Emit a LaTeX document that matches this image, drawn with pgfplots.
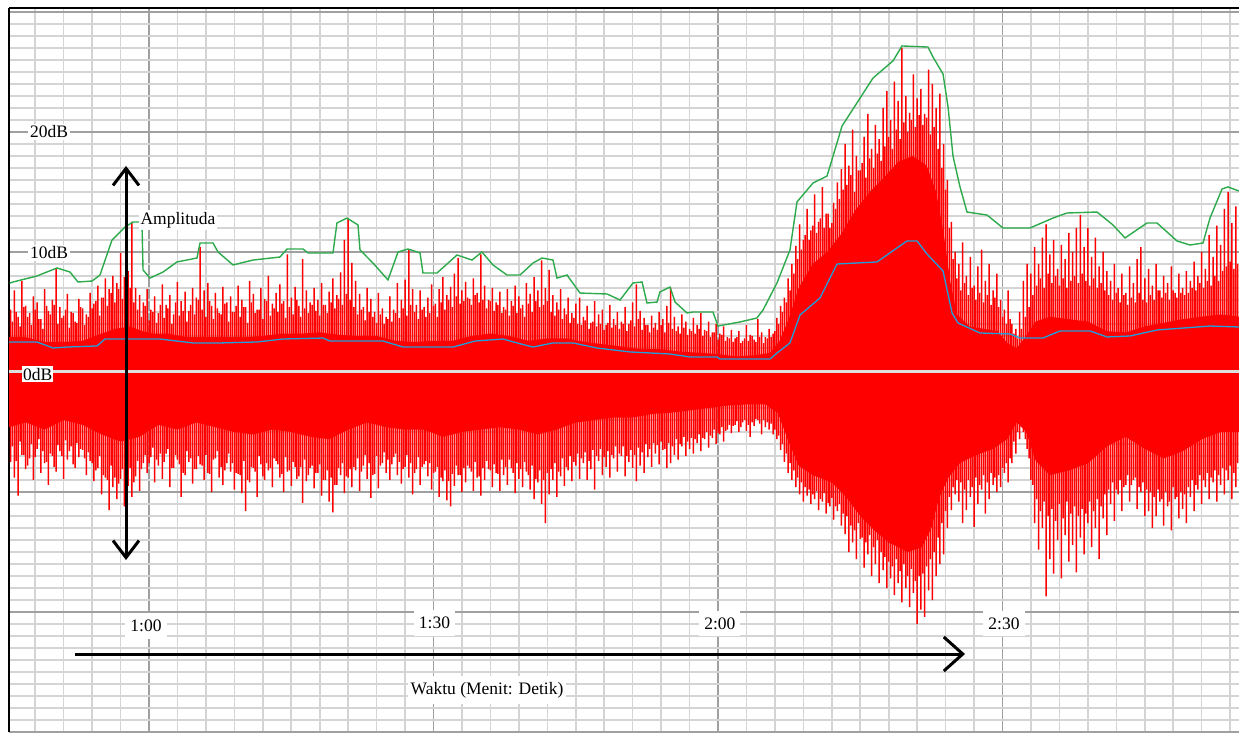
\documentclass[border=0pt]{standalone}
\usepackage{pgfplots}
\pgfplotsset{compat=1.18}
\usepackage{pgfplotstable}
\usepgfplotslibrary{fillbetween}
\usetikzlibrary{arrows.meta}
\usepackage{fontspec}
\setmainfont{Liberation Serif}
\definecolor{wgreen}{RGB}{45,170,75}
\definecolor{wblue}{RGB}{30,160,220}
\definecolor{minorg}{RGB}{212,212,212}
\definecolor{majorg}{RGB}{160,160,160}
\definecolor{zline}{RGB}{222,222,222}

\pgfplotstableread[row sep=\\]{
t u d\\
45.4 5.2 -7.5\\ 45.8 6.8 -8.8\\ 46.2 4.6 -10.3\\ 46.6 7.6 -6.9\\ 47.0 5.5 -8.1\\ 47.4 4.9 -7.2\\ 47.8 6.3 -9.0\\ 48.2 5.8 -6.4\\ 48.6 4.4 -8.4\\ 49.0 6.9 -7.6\\
49.4 5.1 -9.4\\ 49.8 6.0 -7.0\\ 50.2 8.6 -8.3\\ 50.6 5.4 -6.6\\ 51.0 4.7 -8.9\\ 51.4 6.5 -7.3\\ 51.8 5.0 -6.2\\ 52.2 4.2 -8.0\\ 52.6 6.1 -7.1\\ 53.0 5.3 -6.5\\
53.4 4.8 -8.6\\ 53.8 6.6 -7.4\\ 54.2 5.7 -9.1\\ 54.6 7.2 -8.0\\ 55.0 6.2 -10.2\\ 55.4 7.8 -8.8\\ 55.8 6.9 -11.5\\ 56.2 8.0 -9.6\\ 56.6 7.4 -10.6\\ 57.0 9.9 -8.9\\
57.4 7.9 -11.2\\ 57.8 8.4 -9.5\\ 58.2 12.5 -10.4\\ 58.6 7.0 -8.7\\ 59.0 6.4 -9.9\\ 59.4 5.8 -7.6\\ 59.8 6.9 -8.4\\ 60.2 5.2 -7.1\\ 60.6 6.3 -9.2\\ 61.0 4.9 -7.8\\
61.4 7.3 -8.9\\ 61.8 5.6 -6.8\\ 62.2 6.4 -9.6\\ 62.6 4.8 -8.0\\ 63.0 7.5 -7.3\\ 63.4 5.9 -10.4\\ 63.8 6.7 -8.6\\ 64.2 5.1 -7.5\\ 64.6 7.0 -9.3\\ 65.0 6.2 -8.1\\
65.4 10.4 -7.7\\ 65.8 6.8 -9.0\\ 66.2 7.4 -8.4\\ 66.6 5.5 -10.0\\ 67.0 6.6 -7.2\\ 67.4 4.9 -8.8\\ 67.8 7.1 -9.4\\ 68.2 5.8 -7.6\\ 68.6 6.3 -8.3\\ 69.0 5.0 -9.8\\
69.4 7.2 -8.5\\ 69.8 6.0 -10.1\\ 70.2 5.4 -11.6\\ 70.6 7.6 -9.2\\ 71.0 6.5 -8.0\\ 71.4 5.2 -10.4\\ 71.8 7.0 -7.7\\ 72.2 6.1 -9.0\\ 72.6 8.0 -8.2\\ 73.0 5.7 -9.6\\
73.4 6.6 -7.4\\ 73.8 7.3 -8.8\\ 74.2 5.9 -10.0\\ 74.6 9.8 -8.3\\ 75.0 6.2 -9.5\\ 75.4 7.1 -7.9\\ 75.8 5.5 -8.7\\ 76.2 9.4 -10.9\\ 76.6 6.8 -9.1\\ 77.0 5.8 -8.0\\
77.4 7.0 -9.7\\ 77.8 6.0 -8.4\\ 78.2 7.4 -10.3\\ 78.6 5.6 -9.0\\ 79.0 6.7 -10.8\\ 79.4 7.8 -11.7\\ 79.8 6.4 -9.4\\ 80.2 8.3 -8.6\\ 80.6 11.0 -10.1\\ 81.0 12.8 -8.8\\
81.4 9.1 -9.6\\ 81.8 7.6 -8.2\\ 82.2 6.5 -9.9\\ 82.6 5.4 -7.8\\ 83.0 7.0 -8.9\\ 83.4 6.1 -10.5\\ 83.8 5.0 -8.5\\ 84.2 6.6 -9.7\\ 84.6 5.3 -7.6\\ 85.0 4.6 -8.4\\
85.4 6.3 -9.0\\ 85.8 5.2 -7.1\\ 86.2 7.4 -8.6\\ 86.6 6.0 -9.3\\ 87.0 7.7 -7.9\\ 87.4 10.2 -8.8\\ 87.8 6.9 -10.2\\ 88.2 5.6 -8.1\\ 88.6 6.8 -9.4\\ 89.0 5.4 -7.7\\
89.4 6.2 -8.7\\ 89.8 7.3 -9.8\\ 90.2 5.7 -8.3\\ 90.6 6.9 -10.4\\ 91.0 7.9 -9.1\\ 91.4 6.4 -10.7\\ 91.8 7.1 -11.2\\ 92.2 8.2 -9.5\\ 92.6 9.5 -8.6\\ 93.0 6.8 -10.0\\
93.4 7.5 -9.2\\ 93.8 6.1 -8.0\\ 94.2 7.8 -9.9\\ 94.6 6.6 -8.8\\ 95.0 9.8 -10.3\\ 95.4 7.2 -9.0\\ 95.8 6.0 -8.1\\ 96.2 7.0 -9.6\\ 96.6 5.8 -8.4\\ 97.0 6.7 -9.9\\
97.4 5.4 -8.6\\ 97.8 6.9 -9.4\\ 98.2 5.9 -8.0\\ 98.6 7.2 -10.1\\ 99.0 6.3 -8.9\\ 99.4 5.6 -9.6\\ 99.8 7.4 -8.3\\ 100.2 6.5 -9.8\\ 100.6 7.9 -10.6\\ 101.0 6.8 -9.2\\
101.4 9.3 -11.0\\ 101.8 7.0 -12.6\\ 102.2 8.5 -10.2\\ 102.6 6.4 -9.0\\ 103.0 5.8 -10.4\\ 103.4 6.9 -8.7\\ 103.8 5.3 -9.5\\ 104.2 6.2 -8.2\\ 104.6 4.9 -9.1\\ 105.0 5.7 -7.8\\
105.4 6.2 -8.9\\ 105.8 4.6 -7.6\\ 106.2 5.5 -9.0\\ 106.6 4.1 -8.1\\ 107.0 5.9 -9.8\\ 107.4 4.8 -7.4\\ 107.8 5.2 -8.6\\ 108.2 3.9 -7.9\\ 108.6 5.6 -8.8\\ 109.0 4.4 -7.2\\
109.4 5.0 -8.3\\ 109.8 4.2 -7.0\\ 110.2 5.4 -8.7\\ 110.6 4.0 -7.5\\ 111.0 5.8 -8.0\\ 111.4 7.3 -9.1\\ 111.8 5.1 -7.8\\ 112.2 4.5 -8.4\\ 112.6 3.9 -7.1\\ 113.0 4.7 -7.9\\
113.4 4.1 -6.8\\ 113.8 5.0 -7.7\\ 114.2 4.4 -6.5\\ 114.6 5.5 -8.0\\ 115.0 7.0 -7.6\\ 115.4 4.6 -6.9\\ 115.8 3.8 -7.3\\ 116.2 4.8 -6.2\\ 116.6 4.2 -7.0\\ 117.0 3.6 -6.4\\
117.4 4.5 -6.8\\ 117.8 3.9 -5.9\\ 118.2 4.9 -6.6\\ 118.6 3.5 -5.6\\ 119.0 4.2 -6.3\\ 119.4 3.3 -5.5\\ 119.8 4.0 -6.0\\ 120.2 3.2 -5.2\\ 120.6 3.8 -5.8\\ 121.0 2.9 -4.8\\
121.4 3.5 -5.1\\ 121.8 2.8 -4.4\\ 122.2 3.4 -5.0\\ 122.6 2.6 -4.2\\ 123.0 3.9 -4.9\\ 123.4 3.1 -5.4\\ 123.8 2.7 -4.5\\ 124.2 4.4 -4.0\\ 124.6 3.3 -5.2\\ 125.0 2.9 -4.6\\
125.4 3.6 -4.8\\ 125.8 3.2 -5.2\\ 126.2 4.5 -5.6\\ 126.6 5.5 -6.5\\ 127.0 6.2 -7.5\\ 127.4 7.8 -8.4\\ 127.8 9.0 -9.0\\ 128.2 10.5 -9.6\\ 128.6 12.3 -10.2\\ 129.0 11.0 -10.8\\
129.4 13.6 -10.3\\ 129.8 11.8 -11.0\\ 130.2 14.8 -10.6\\ 130.6 12.5 -11.5\\ 131.0 15.4 -10.8\\ 131.4 13.2 -11.8\\ 131.8 12.0 -11.2\\ 132.2 14.1 -12.3\\ 132.6 15.8 -11.6\\ 133.0 16.9 -12.8\\
133.4 19.0 -13.5\\ 133.8 17.2 -15.0\\ 134.2 20.2 -14.2\\ 134.6 18.0 -15.6\\ 135.0 16.8 -13.9\\ 135.4 19.6 -16.3\\ 135.8 21.5 -15.2\\ 136.2 18.6 -17.0\\ 136.6 20.6 -16.0\\ 137.0 19.4 -17.6\\
137.4 22.0 -16.5\\ 137.8 23.4 -18.0\\ 138.2 21.0 -17.2\\ 138.6 24.2 -18.6\\ 139.0 22.6 -17.6\\ 139.4 27.0 -19.2\\ 139.8 23.0 -18.0\\ 140.2 21.6 -19.6\\ 140.6 24.8 -18.4\\ 141.0 22.8 -21.0\\
141.4 23.6 -19.8\\ 141.8 21.5 -20.4\\ 142.2 25.2 -18.2\\ 142.6 24.0 -19.0\\ 143.0 22.0 -17.0\\ 143.4 23.2 -16.0\\ 143.8 19.0 -15.2\\ 144.2 16.0 -13.0\\ 144.6 12.5 -11.5\\ 145.0 10.0 -10.2\\
145.4 9.0 -10.8\\ 145.8 10.8 -12.6\\ 146.2 8.0 -11.5\\ 146.6 9.6 -10.4\\ 147.0 7.2 -12.9\\ 147.4 8.8 -11.0\\ 147.8 10.2 -9.8\\ 148.2 7.6 -11.8\\ 148.6 9.0 -10.6\\ 149.0 6.8 -9.4\\
149.4 8.2 -10.0\\ 149.8 6.0 -9.6\\ 150.2 5.2 -8.4\\ 150.6 6.8 -9.2\\ 151.0 4.0 -7.6\\ 151.4 3.6 -6.8\\ 151.8 5.0 -5.6\\ 152.2 7.6 -5.0\\ 152.6 9.0 -6.4\\ 153.0 8.2 -9.0\\
153.4 10.4 -12.6\\ 153.8 9.0 -14.8\\ 154.2 11.2 -13.0\\ 154.6 12.3 -18.7\\ 155.0 9.8 -15.6\\ 155.4 11.0 -16.8\\ 155.8 8.6 -14.0\\ 156.2 10.6 -17.2\\ 156.6 9.4 -13.6\\ 157.0 11.6 -15.8\\
157.4 10.0 -14.4\\ 157.8 12.0 -16.7\\ 158.2 13.1 -13.8\\ 158.6 10.4 -15.2\\ 159.0 12.0 -12.6\\ 159.4 9.6 -14.6\\ 159.8 11.2 -13.0\\ 160.2 8.8 -15.6\\ 160.6 10.0 -12.2\\ 161.0 8.4 -13.6\\
161.4 7.6 -11.0\\ 161.8 9.0 -12.4\\ 162.2 7.0 -10.2\\ 162.6 8.2 -11.6\\ 163.0 6.6 -9.4\\ 163.4 8.8 -10.8\\ 163.8 7.4 -9.0\\ 164.2 9.4 -11.4\\ 164.6 10.4 -10.0\\ 165.0 7.8 -12.0\\
165.4 8.6 -11.6\\ 165.8 7.2 -13.0\\ 166.2 9.0 -12.0\\ 166.6 6.8 -10.8\\ 167.0 8.0 -12.8\\ 167.4 7.4 -11.2\\ 167.8 8.8 -13.2\\ 168.2 6.6 -10.6\\ 168.6 8.2 -12.2\\ 169.0 7.0 -11.4\\
169.4 8.4 -12.6\\ 169.8 7.6 -10.4\\ 170.2 9.2 -11.6\\ 170.6 8.0 -9.8\\ 171.0 10.0 -11.0\\ 171.4 8.6 -9.6\\ 171.8 11.4 -10.6\\ 172.2 9.6 -9.2\\ 172.6 12.2 -10.8\\ 173.0 10.6 -9.4\\
173.4 13.6 -10.2\\ 173.8 15.0 -9.0\\ 174.2 12.4 -10.6\\ 174.6 13.8 -9.6\\
}\spikes

\pgfplotstableread[row sep=\\]{
t u d\\
45.6 4.2 -6.2\\ 46.0 5.0 -7.4\\ 46.4 3.8 -5.8\\ 46.8 5.4 -6.9\\ 47.2 4.6 -7.8\\ 47.6 3.9 -6.0\\ 48.0 5.2 -7.1\\ 48.4 4.4 -5.6\\ 48.8 3.6 -6.6\\ 49.2 5.5 -7.5\\
49.6 4.8 -6.8\\ 50.0 5.6 -7.9\\ 50.4 4.0 -6.1\\ 50.8 4.5 -7.0\\ 51.2 5.2 -5.7\\ 51.6 3.7 -6.6\\ 52.0 4.9 -7.7\\ 52.4 4.1 -5.9\\ 52.8 5.4 -6.4\\ 53.2 3.9 -7.2\\
53.6 4.6 -6.7\\ 54.0 5.3 -7.6\\ 54.4 5.9 -8.2\\ 54.8 4.7 -7.0\\ 55.2 6.2 -8.6\\ 55.6 5.5 -9.0\\ 56.0 6.6 -7.8\\ 56.4 5.8 -8.8\\ 56.8 6.9 -9.3\\ 57.2 6.1 -8.1\\
57.6 6.4 -8.9\\ 58.0 7.0 -8.0\\ 58.4 5.8 -9.2\\ 58.8 5.2 -7.4\\ 59.2 4.6 -8.1\\ 59.6 5.5 -6.9\\ 60.0 4.3 -7.6\\ 60.4 5.0 -6.3\\ 60.8 4.1 -7.3\\ 61.2 5.6 -6.8\\
61.6 4.5 -7.5\\ 62.0 5.3 -6.4\\ 62.4 4.0 -8.0\\ 62.8 5.8 -6.9\\ 63.2 4.7 -7.7\\ 63.6 5.1 -8.4\\ 64.0 4.2 -6.6\\ 64.4 5.6 -7.2\\ 64.8 4.8 -8.1\\ 65.2 6.0 -7.0\\
65.6 5.2 -7.8\\ 66.0 4.6 -6.9\\ 66.4 5.9 -8.5\\ 66.8 4.4 -7.3\\ 67.2 5.3 -6.6\\ 67.6 4.8 -7.9\\ 68.0 5.7 -8.2\\ 68.4 4.2 -6.8\\ 68.8 5.0 -7.6\\ 69.2 5.5 -8.4\\
69.6 4.6 -8.6\\ 70.0 5.4 -7.4\\ 70.4 4.1 -9.0\\ 70.8 5.8 -7.9\\ 71.2 4.9 -8.3\\ 71.6 5.2 -7.0\\ 72.0 4.4 -8.7\\ 72.4 5.9 -7.6\\ 72.8 4.7 -8.0\\ 73.2 5.3 -7.2\\
73.6 5.0 -7.7\\ 74.0 5.7 -8.5\\ 74.4 4.5 -7.1\\ 74.8 5.4 -8.2\\ 75.2 4.8 -7.5\\ 75.6 6.0 -8.9\\ 76.0 4.6 -7.9\\ 76.4 5.3 -7.3\\ 76.8 4.9 -8.6\\ 77.2 5.6 -7.8\\
77.6 5.1 -8.4\\ 78.0 4.7 -7.7\\ 78.4 5.6 -9.0\\ 78.8 4.9 -8.2\\ 79.2 5.8 -8.8\\ 79.6 5.3 -9.4\\ 80.0 6.1 -8.0\\ 80.4 5.6 -7.6\\ 80.8 6.5 -8.7\\ 81.2 6.0 -8.1\\
81.6 5.4 -7.9\\ 82.0 4.8 -7.2\\ 82.4 5.2 -8.3\\ 82.8 4.3 -6.9\\ 83.2 5.0 -7.6\\ 83.6 4.6 -8.6\\ 84.0 4.1 -7.0\\ 84.4 4.8 -7.8\\ 84.8 4.0 -6.7\\ 85.2 4.4 -7.3\\
85.6 4.2 -7.7\\ 86.0 4.9 -6.8\\ 86.4 4.5 -7.5\\ 86.8 5.3 -8.1\\ 87.2 4.7 -6.9\\ 87.6 5.6 -7.6\\ 88.0 5.0 -8.4\\ 88.4 4.4 -7.1\\ 88.8 5.2 -7.9\\ 89.2 4.6 -7.4\\
89.6 4.9 -7.6\\ 90.0 5.5 -8.4\\ 90.4 4.6 -7.9\\ 90.8 5.8 -8.8\\ 91.2 5.2 -8.2\\ 91.6 6.0 -9.1\\ 92.0 5.4 -8.5\\ 92.4 6.3 -7.8\\ 92.8 5.7 -8.6\\ 93.2 5.9 -8.0\\
93.6 6.2 -7.8\\ 94.0 5.6 -8.3\\ 94.4 6.4 -7.5\\ 94.8 5.8 -8.7\\ 95.2 6.0 -8.0\\ 95.6 5.3 -7.4\\ 96.0 5.9 -8.2\\ 96.4 5.1 -7.7\\ 96.8 5.6 -8.5\\ 97.2 4.9 -7.3\\
97.6 5.2 -7.9\\ 98.0 4.7 -7.3\\ 98.4 5.5 -8.4\\ 98.8 4.9 -7.6\\ 99.2 5.3 -8.1\\ 99.6 4.6 -7.5\\ 100.0 5.7 -8.6\\ 100.4 5.0 -7.8\\ 100.8 5.9 -8.9\\ 101.2 5.4 -8.2\\
101.6 5.6 -9.0\\ 102.0 5.9 -8.4\\ 102.4 5.0 -8.1\\ 102.8 4.7 -7.6\\ 103.2 5.2 -8.3\\ 103.6 4.4 -7.2\\ 104.0 4.8 -7.9\\ 104.4 4.1 -7.0\\ 104.8 4.5 -7.5\\ 105.2 4.0 -6.8\\
105.6 3.9 -7.2\\ 106.0 4.3 -6.7\\ 106.4 3.6 -7.4\\ 106.8 4.2 -6.5\\ 107.2 3.8 -7.0\\ 107.6 4.0 -6.4\\ 108.0 3.5 -7.1\\ 108.4 4.1 -6.6\\ 108.8 3.7 -6.9\\ 109.2 3.9 -6.2\\
109.6 3.6 -6.8\\ 110.0 4.0 -6.2\\ 110.4 3.4 -7.0\\ 110.8 4.3 -6.5\\ 111.2 3.8 -6.9\\ 111.6 4.4 -6.3\\ 112.0 3.5 -6.7\\ 112.4 3.9 -6.0\\ 112.8 3.3 -6.4\\ 113.2 3.7 -5.9\\
113.6 3.5 -6.1\\ 114.0 3.9 -5.8\\ 114.4 3.3 -6.4\\ 114.8 4.1 -5.9\\ 115.2 3.6 -6.2\\ 115.6 3.4 -5.6\\ 116.0 3.2 -6.0\\ 116.4 3.7 -5.4\\ 116.8 3.1 -5.8\\ 117.2 3.4 -5.5\\
117.6 3.2 -5.6\\ 118.0 3.6 -5.2\\ 118.4 3.0 -5.5\\ 118.8 3.4 -5.0\\ 119.2 2.9 -5.3\\ 119.6 3.3 -4.8\\ 120.0 2.7 -5.1\\ 120.4 3.1 -4.6\\ 120.8 2.6 -4.9\\ 121.2 2.8 -4.4\\
121.6 2.5 -4.5\\ 122.0 2.9 -4.1\\ 122.4 2.4 -4.6\\ 122.8 2.8 -4.0\\ 123.2 2.6 -4.4\\ 123.6 3.0 -4.2\\ 124.0 2.5 -3.9\\ 124.4 2.9 -4.3\\ 124.8 2.4 -4.0\\ 125.2 2.8 -4.2\\
125.6 2.9 -4.3\\ 126.0 3.4 -4.8\\ 126.4 4.0 -5.3\\ 126.8 5.0 -6.0\\ 127.2 5.8 -6.8\\ 127.6 6.8 -7.6\\ 128.0 8.2 -8.2\\ 128.4 9.4 -8.8\\ 128.8 10.2 -9.2\\ 129.2 11.4 -9.6\\
129.6 11.0 -9.8\\ 130.0 12.2 -10.2\\ 130.4 11.6 -9.9\\ 130.8 12.8 -10.6\\ 131.2 12.0 -10.1\\ 131.6 13.2 -10.9\\ 132.0 12.4 -10.5\\ 132.4 13.6 -11.2\\ 132.8 14.4 -11.0\\ 133.2 15.2 -11.8\\
133.6 15.6 -12.0\\ 134.0 16.4 -12.8\\ 134.4 15.0 -13.2\\ 134.8 16.8 -12.6\\ 135.2 17.4 -13.8\\ 135.6 16.2 -14.2\\ 136.0 17.8 -13.6\\ 136.4 17.0 -14.6\\ 136.8 18.2 -14.0\\ 137.2 17.6 -15.0\\
137.6 18.8 -15.4\\ 138.0 19.6 -15.8\\ 138.4 18.6 -16.2\\ 138.8 20.2 -15.6\\ 139.2 19.4 -16.6\\ 139.6 20.8 -16.0\\ 140.0 20.0 -17.0\\ 140.4 21.0 -16.4\\ 140.8 20.4 -17.4\\ 141.2 21.4 -17.0\\
141.6 20.6 -16.8\\ 142.0 21.2 -16.2\\ 142.4 19.8 -15.6\\ 142.8 20.4 -15.0\\ 143.2 18.6 -13.8\\ 143.6 17.0 -12.6\\ 144.0 15.2 -11.6\\ 144.4 12.0 -10.4\\ 144.8 9.4 -9.6\\ 145.2 7.8 -9.0\\
145.6 6.8 -9.2\\ 146.0 7.4 -9.8\\ 146.4 6.4 -9.0\\ 146.8 7.0 -9.6\\ 147.2 6.0 -8.8\\ 147.6 6.6 -9.4\\ 148.0 5.8 -8.6\\ 148.4 6.4 -9.2\\ 148.8 5.6 -8.4\\ 149.2 6.2 -8.8\\
149.6 5.4 -8.6\\ 150.0 4.6 -8.0\\ 150.4 4.0 -7.6\\ 150.8 4.4 -7.2\\ 151.2 3.2 -5.8\\ 151.6 2.8 -5.0\\ 152.0 3.6 -4.6\\ 152.4 4.6 -5.6\\ 152.8 5.4 -7.2\\ 153.2 6.4 -9.4\\
153.6 7.2 -10.6\\ 154.0 7.8 -11.6\\ 154.4 7.0 -10.8\\ 154.8 8.2 -12.0\\ 155.2 7.4 -11.4\\ 155.6 8.0 -12.4\\ 156.0 7.2 -11.0\\ 156.4 7.8 -12.2\\ 156.8 7.0 -10.8\\ 157.2 7.6 -11.8\\
157.6 8.0 -11.2\\ 158.0 7.4 -12.0\\ 158.4 8.2 -11.4\\ 158.8 7.6 -11.8\\ 159.2 7.2 -10.8\\ 159.6 7.8 -11.6\\ 160.0 7.0 -10.6\\ 160.4 7.4 -11.2\\ 160.8 6.8 -10.2\\ 161.2 6.4 -9.8\\
161.6 6.0 -9.2\\ 162.0 6.6 -9.8\\ 162.4 5.8 -9.0\\ 162.8 6.4 -9.6\\ 163.2 5.6 -8.6\\ 163.6 6.2 -9.4\\ 164.0 5.8 -8.8\\ 164.4 6.6 -9.6\\ 164.8 6.0 -9.2\\ 165.2 5.8 -9.8\\
165.6 6.4 -10.0\\ 166.0 6.0 -10.4\\ 166.4 6.8 -9.8\\ 166.8 6.2 -10.6\\ 167.2 6.6 -10.0\\ 167.6 6.0 -10.8\\ 168.0 6.8 -9.6\\ 168.4 6.2 -10.4\\ 168.8 6.6 -10.0\\ 169.2 6.4 -10.2\\
169.6 6.6 -9.6\\ 170.0 7.0 -9.0\\ 170.4 6.8 -9.4\\ 170.8 7.4 -8.6\\ 171.2 7.0 -9.0\\ 171.6 7.6 -8.4\\ 172.0 7.2 -8.8\\ 172.4 8.0 -8.2\\ 172.8 7.6 -8.6\\ 173.2 8.4 -8.0\\
173.6 8.8 -8.2\\ 174.0 9.2 -7.8\\ 174.4 8.6 -8.4\\ 174.8 9.0 -7.6\\
}\mids

\pgfplotstableread[row sep=\\]{
t y\\
45.2 2.9\\ 47 2.9\\ 49 2.5\\ 51 2.5\\ 53 2.6\\ 55 3.2\\ 56.5 3.6\\ 58 3.8\\ 59.3 3.4\\ 60.5 3.2\\
62 3.2\\ 64 2.9\\ 66 2.9\\ 68 2.9\\ 70 2.9\\ 72 3.0\\ 74 3.2\\ 76 3.2\\ 78 3.3\\ 80 3.1\\
82 3.0\\ 84 3.0\\ 86 2.6\\ 88 2.5\\ 90 2.6\\ 92 2.6\\ 94 3.0\\ 96 3.2\\ 98 3.0\\ 100 2.6\\
102 2.8\\ 104 2.8\\ 106 2.5\\ 108 2.3\\ 110 2.1\\ 112 1.9\\ 114 1.9\\ 116 1.7\\ 118 1.6\\ 120 1.5\\
122 1.3\\ 124 1.4\\ 125.5 1.6\\ 126.5 2.6\\ 127.5 4.5\\ 128.5 7.0\\ 130 9.0\\ 131.5 10.0\\ 133 11.5\\ 134.5 13.5\\
136 15.0\\ 137.5 16.2\\ 139 17.5\\ 140.5 18.0\\ 142 17.2\\ 143 15.0\\ 143.8 11.5\\ 144.5 7.5\\ 145.2 4.8\\ 146.5 3.8\\
148 3.6\\ 149.5 3.4\\ 150.5 2.4\\ 151.5 2.0\\ 152.3 2.8\\ 153.5 4.2\\ 155 4.6\\ 157 4.4\\ 159 4.2\\ 161 3.4\\
163 3.3\\ 165 3.8\\ 167 4.1\\ 169 4.4\\ 171 4.6\\ 173 4.8\\ 175 4.6\\
}\coretop

\pgfplotstableread[row sep=\\]{
t y\\
45.2 -4.6\\ 47 -4.2\\ 49 -4.8\\ 51 -4.0\\ 53 -4.4\\ 55 -5.2\\ 57 -5.8\\ 59 -5.4\\ 61 -4.4\\ 63 -4.8\\
65 -4.2\\ 67 -4.6\\ 69 -5.0\\ 71 -5.2\\ 73 -4.8\\ 75 -5.0\\ 77 -5.4\\ 79 -5.6\\ 81 -4.8\\ 83 -4.2\\
85 -4.6\\ 87 -4.8\\ 89 -4.8\\ 91 -5.4\\ 93 -5.0\\ 95 -4.8\\ 97 -4.6\\ 99 -4.8\\ 101 -5.2\\ 103 -4.8\\
105 -4.2\\ 107 -4.0\\ 109 -3.8\\ 111 -3.8\\ 113 -3.5\\ 115 -3.4\\ 117 -3.2\\ 119 -3.0\\ 121 -2.8\\ 123 -2.7\\
125 -2.7\\ 126.3 -3.4\\ 127.3 -5.5\\ 128.5 -7.8\\ 130 -8.6\\ 132 -9.2\\ 133.5 -10.4\\ 135 -12.0\\ 136.5 -13.2\\ 138 -14.2\\
140 -15.0\\ 141.5 -14.6\\ 142.5 -13.0\\ 143.3 -10.5\\ 144.3 -8.8\\ 145.5 -7.6\\ 147 -7.0\\ 149 -6.4\\ 150.5 -5.6\\ 151.5 -4.2\\
152.5 -5.0\\ 153.5 -7.4\\ 155 -8.6\\ 157 -8.2\\ 159 -7.6\\ 161 -6.2\\ 163 -5.4\\ 165 -6.4\\ 167 -7.2\\ 169 -6.6\\
171 -5.6\\ 173 -5.0\\ 175 -5.0\\
}\corebot

\begin{document}
\begin{tikzpicture}
\begin{axis}[
  at={(9pt,0pt)}, anchor=south west,
  scale only axis, width=1230pt, height=724pt,
  xmin=45.237, xmax=174.94, ymin=-30, ymax=30.333,
  axis x line*=top, axis y line*=left,
  axis line style={black, line width=1.2pt, -},
  xtick={60,90,120,150}, minor xtick={48,51,...,174},
  ytick={-30,-20,-10,0,10,20,30}, minor ytick={-29,-28,...,30},
  xticklabels={}, yticklabels={},
  major tick length=0pt, minor tick length=0pt,
  grid=both,
  major grid style={draw=majorg, line width=1.4pt},
  minor grid style={draw=minorg, line width=1.6pt},
  clip=true,
]
\addplot[name path=ct, draw=none] table[x=t,y=y] {\coretop};
\addplot[name path=cb, draw=none] table[x=t,y=y] {\corebot};
\addplot[fill=red, draw=none] fill between[of=ct and cb];
\addplot[ybar, bar width=1.5pt, bar shift=0pt, fill=red, draw=none] table[x=t,y=u] {\mids};
\addplot[ybar, bar width=1.5pt, bar shift=0pt, fill=red, draw=none] table[x=t,y=d] {\mids};
\addplot[ybar, bar width=1.5pt, bar shift=0pt, fill=red, draw=none] table[x=t,y=u] {\spikes};
\addplot[ybar, bar width=1.5pt, bar shift=0pt, fill=red, draw=none] table[x=t,y=d] {\spikes};
\addplot[wgreen, line width=1.4pt, mark=none] coordinates {
(45.3,7.4) (45.66,7.5) (48.19,8.0) (50.30,8.67) (51.67,8.33) (52.51,7.5) (53.99,7.58) (54.83,8.08)
(56.10,11.0) (57.47,12.08) (58.31,12.5) (59.26,12.5) (59.37,8.5) (60.11,7.83) (61.48,8.33) (62.95,9.17)
(65.06,9.5) (65.38,10.75) (66.75,10.75) (67.28,10.0) (68.86,8.92) (70.97,9.33) (73.81,9.58) (74.55,10.25)
(76.24,10.25) (76.77,9.92) (79.40,9.92) (79.82,12.42) (80.88,12.83) (82.04,12.25) (82.25,10.17) (83.62,9.08)
(85.20,7.67) (86.26,10.0) (87.31,10.25) (88.58,9.92) (88.89,8.25) (90.37,8.25) (92.48,9.75) (94.06,9.33)
(95.11,10.0) (96.27,8.92) (97.75,8.08) (99.12,8.08) (100.49,9.08) (101.44,9.5) (102.60,9.33) (103.02,7.83)
(104.08,8.08) (105.45,6.58) (108.30,6.5) (109.67,6.0) (111.04,7.42) (111.99,7.5) (112.51,5.75) (113.57,5.83)
(113.88,6.67) (114.94,7.08) (115.47,5.83) (116.73,4.92) (117.37,5.0) (119.47,5.0) (120.00,3.83) (122.32,4.17)
(124.11,4.5) (124.75,5.17) (126.22,7.42) (127.59,10.17) (128.33,14.17) (130.02,15.75) (131.50,16.33) (133.08,20.5)
(136.35,24.5) (138.45,25.92) (139.40,27.17) (142.14,27.08) (142.67,26.25) (143.73,24.83) (144.26,22.08) (144.78,18.0)
(145.52,15.42) (146.26,13.33) (148.37,13.08) (150.05,12.0) (152.90,12.0) (155.33,12.83) (156.80,13.25) (159.97,13.33)
(161.65,12.25) (162.92,11.17) (165.24,12.42) (166.29,12.42) (168.40,10.92) (169.77,10.58) (171.14,10.75) (171.88,12.83)
(173.15,15.25) (173.78,15.42) (174.94,15.08)
};
\addplot[wblue, line width=1.3pt, mark=none] coordinates {
(45.13,2.5) (48.19,2.5) (49.88,2.0) (51.35,2.08) (54.52,2.17) (55.36,2.75) (61.16,2.75) (64.64,2.42)
(67.49,2.42) (71.39,2.5) (74.13,2.75) (78.35,2.83) (79.09,2.58) (84.68,2.58) (86.78,2.08) (92.06,2.08)
(94.38,2.58) (97.33,2.75) (98.81,2.42) (100.49,2.08) (102.60,2.42) (104.71,2.42) (107.24,2.0) (110.72,1.67)
(114.94,1.5) (117.05,1.25) (119.90,1.25) (120.21,1.08) (125.49,1.08) (126.22,1.58) (127.59,2.42) (128.65,4.75)
(130.76,6.17) (132.55,9.0) (136.77,9.17) (139.93,10.92) (140.99,10.92) (142.04,9.83) (143.73,8.42) (144.68,4.92)
(145.31,4.08) (147.63,3.25) (150.79,3.17) (151.85,2.83) (154.27,2.83) (156.07,3.42) (159.23,3.42) (161.02,2.92)
(163.45,3.0) (166.29,3.5) (171.88,3.83) (174.94,3.75)
};
\addplot[zline, line width=3pt, mark=none] coordinates {(45.0,0) (176.0,0)};
\draw[black, line width=3pt, {Straight Barb[length=17pt,width=26pt]}-{Straight Barb[length=17pt,width=26pt]}]
  (axis cs:57.575,-15.67) -- (axis cs:57.575,17.17);
\draw[black, line width=3pt, -{Straight Barb[length=19pt,width=34pt]}]
  (axis cs:52.2,-23.5) -- (axis cs:146.05,-23.5);
\begin{scope}[every node/.style={font=\fontsize{17.5}{21}\selectfont, fill=white, inner xsep=2pt, inner ysep=2pt}]
\node[anchor=west] at (axis cs:47.24,20) {20dB};
\node[anchor=west] at (axis cs:47.24,9.92) {10dB};
\node[anchor=west, inner xsep=1pt] at (axis cs:46.61,-0.17) {0dB\hspace{9pt}};
\node at (axis cs:63.06,12.67) {Amplituda};
\node[inner xsep=5pt, inner ysep=7pt] at (axis cs:59.68,-21.17) {1:00};
\node[inner xsep=5pt, inner ysep=7pt] at (axis cs:90.1,-20.92) {1:30};
\node[inner xsep=5pt, inner ysep=7pt] at (axis cs:120.2,-20.96) {2:00};
\node[inner xsep=5pt, inner ysep=7pt] at (axis cs:150.16,-20.96) {2:30};
\node[inner xsep=3pt, inner ysep=6pt] at (axis cs:95.64,-26.5) {Waktu (Menit: Detik)};
\end{scope}
\end{axis}
\pgfresetboundingbox
\path (0,0) rectangle (1239pt,732pt);
\end{tikzpicture}
\end{document}
